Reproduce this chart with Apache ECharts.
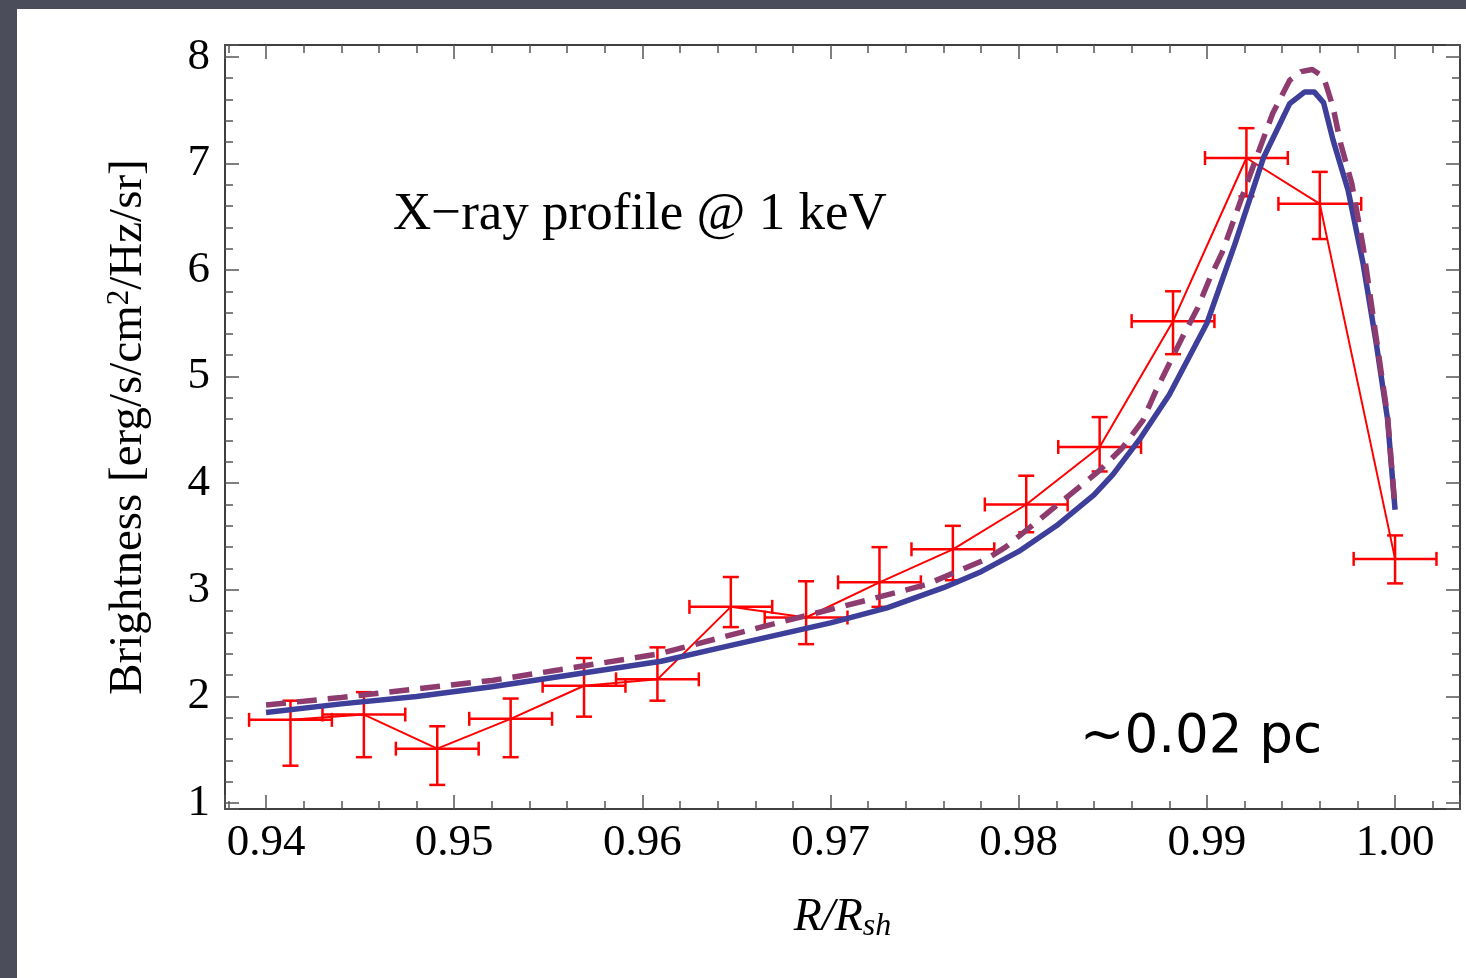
<!DOCTYPE html>
<html>
<head>
<meta charset="utf-8">
<script src="https://cdn.jsdelivr.net/npm/echarts@6/dist/echarts.min.js"></script>
<style>
  html, body { margin: 0; padding: 0; background: #fff; }
  #main { width: 1466px; height: 978px; }
</style>
</head>
<body>
<div id="main"></div>
<script>
// measured profile: R/R_sh, brightness, error bar ends
const dataR = [0.9413, 0.9452, 0.9491, 0.9530, 0.9569, 0.9608, 0.9647, 0.9687,
               0.9726, 0.9765, 0.9804, 0.9843, 0.9882, 0.9921, 0.9960, 1.0000];
const dataB = [1.78, 1.83, 1.51, 1.79, 2.10, 2.16, 2.84, 2.74,
               3.07, 3.38, 3.80, 4.34, 5.52, 7.05, 6.62, 3.29];
const dataLow = [1.35, 1.43, 1.17, 1.43, 1.81, 1.96, 2.65, 2.49,
                 2.84, 3.09, 3.54, 4.11, 5.21, 6.69, 6.29, 3.06];
const dataHigh = [1.96, 2.04, 1.72, 1.98, 2.36, 2.46, 3.12, 3.08,
                  3.40, 3.60, 4.07, 4.62, 5.80, 7.33, 6.92, 3.51];
const dataRErr = 0.0022;

// model, solid blue
const modelR = [0.940, 0.944, 0.948, 0.952, 0.955, 0.958, 0.961, 0.964, 0.967, 0.970,
                0.973, 0.976, 0.978, 0.980, 0.982, 0.984, 0.985, 0.9865, 0.988, 0.990,
                0.9915, 0.993, 0.9944, 0.9952, 0.9957, 0.9962, 0.9967, 0.9975, 0.9983,
                0.9990, 0.9996, 1.000];
const modelB = [1.85, 1.93, 2.00, 2.09, 2.17, 2.25, 2.33, 2.45, 2.57, 2.69,
                2.83, 3.02, 3.17, 3.36, 3.60, 3.89, 4.08, 4.43, 4.83, 5.50,
                6.25, 7.05, 7.56, 7.67, 7.67, 7.57, 7.22, 6.75, 6.06,
                5.31, 4.60, 3.75];

// model, dashed purple
const model2R = [0.940, 0.944, 0.948, 0.952, 0.9556, 0.9609, 0.9663, 0.9721, 0.9751, 0.9783,
                 0.9793, 0.9825, 0.9843, 0.9855, 0.9866, 0.9873, 0.9880, 0.9887, 0.9895,
                 0.9902, 0.9908, 0.9921, 0.9935, 0.9944, 0.9950, 0.9956, 0.9962, 0.9967,
                 0.9971, 0.9977, 0.9983, 0.9990, 0.9996, 1.000];
const model2B = [1.92, 1.99, 2.07, 2.15, 2.25, 2.40, 2.65, 2.91, 3.05, 3.29,
                 3.40, 3.86, 4.12, 4.33, 4.59, 4.87, 5.12, 5.37, 5.64,
                 5.94, 6.16, 6.80, 7.47, 7.78, 7.86, 7.88, 7.81, 7.53,
                 7.19, 6.81, 6.22, 5.36, 4.63, 3.76];

const xMin = 0.93782, xMax = 1.00345;
const yMin = 0.944, yMax = 8.11;

const serif = 'Liberation Serif';
const frameLine = { color: '#333', width: 1.5 };
const tickLine = { color: '#555', width: 1.5 };

function onStep(v, step) {
    const k = v / step;
    return Math.abs(k - Math.round(k)) < 1e-6;
}

function makeAxis(kind, pos, step, len, label) {
    return {
        type: 'value',
        position: pos,
        min: kind === 'x' ? xMin : yMin,
        max: kind === 'x' ? xMax : yMax,
        minInterval: step,
        maxInterval: step,
        splitNumber: 40,
        axisLine: { show: true, onZero: false, lineStyle: frameLine },
        axisTick: { show: true, inside: true, length: len, lineStyle: tickLine },
        axisLabel: label || { show: false },
        splitLine: { show: false },
        minorTick: { show: false }
    };
}

const xMain = makeAxis('x', 'bottom', 0.01, 14, {
    show: true,
    margin: 12,
    fontFamily: serif,
    fontSize: 45,
    color: '#000',
    formatter: v => onStep(v, 0.01) ? v.toFixed(2) : ''
});
xMain.name = '{i|R/R}{sub|sh}';
xMain.nameLocation = 'middle';
xMain.nameGap = 84;
xMain.nameTextStyle = {
    rich: {
        i: { fontFamily: serif, fontStyle: 'italic', fontSize: 46, color: '#000' },
        sub: { fontFamily: serif, fontStyle: 'italic', fontSize: 32, color: '#000', padding: [18, 0, 0, 0] }
    }
};

const yMain = makeAxis('y', 'left', 1, 14, {
    show: true,
    margin: 15,
    fontFamily: serif,
    fontSize: 45,
    color: '#000',
    formatter: v => onStep(v, 1) ? String(Math.round(v)) : ''
});
yMain.name = '{t|Brightness [erg/s/cm}{sup|2}{t|/Hz/sr]}';
yMain.nameLocation = 'middle';
yMain.nameGap = 71;
yMain.nameRotate = 90;
yMain.nameTextStyle = {
    rich: {
        t: { fontFamily: serif, fontSize: 47, color: '#000' },
        sup: { fontFamily: serif, fontSize: 31, color: '#000', padding: [0, 0, 19, 0] }
    }
};

const option = {
    backgroundColor: '#fff',
    animation: false,
    grid: { left: 225, top: 45, right: 6, bottom: 169 },
    xAxis: [
        xMain,
        makeAxis('x', 'bottom', 0.002, 8),
        makeAxis('x', 'top', 0.01, 14),
        makeAxis('x', 'top', 0.002, 8)
    ],
    yAxis: [
        yMain,
        makeAxis('y', 'left', 0.2, 8),
        makeAxis('y', 'right', 1, 14),
        makeAxis('y', 'right', 0.2, 8)
    ],
    graphic: [
        { type: 'rect', shape: { x: 0, y: 0, width: 17, height: 978 }, style: { fill: '#4b4e5a' } },
        { type: 'rect', shape: { x: 0, y: 0, width: 1466, height: 9 }, style: { fill: '#4b4e5a' } },
        {
            type: 'text', left: 393, top: 189,
            style: { text: 'X\u2212ray profile @ 1 keV', fontFamily: serif, fontSize: 53, fill: '#000' }
        },
        {
            type: 'text', left: 1080, top: 712,
            style: { text: '~0.02 pc', fontFamily: 'DejaVu Sans', fontSize: 53, fill: '#000' }
        }
    ],
    series: [
        {
            type: 'custom',
            z: 2,
            data: dataR.map((r, i) => [r, dataB[i], dataLow[i], dataHigh[i]]),
            renderItem: (params, api) => {
                const r = api.value(0), b = api.value(1);
                const lo = api.coord([r, api.value(2)]);
                const hi = api.coord([r, api.value(3)]);
                const le = api.coord([r - dataRErr, b]);
                const ri = api.coord([r + dataRErr, b]);
                const st = { stroke: '#ff0000', lineWidth: 2.5, fill: null };
                const seg = (x1, y1, x2, y2) => ({ type: 'line', shape: { x1, y1, x2, y2 }, style: st });
                return {
                    type: 'group',
                    children: [
                        seg(lo[0], lo[1], hi[0], hi[1]),
                        seg(lo[0] - 8, lo[1], lo[0] + 8, lo[1]),
                        seg(hi[0] - 8, hi[1], hi[0] + 8, hi[1]),
                        seg(le[0], le[1], ri[0], ri[1]),
                        seg(le[0], le[1] - 7, le[0], le[1] + 7),
                        seg(ri[0], ri[1] - 7, ri[0], ri[1] + 7)
                    ]
                };
            }
        },
        {
            type: 'line',
            z: 3,
            data: dataR.map((r, i) => [r, dataB[i]]),
            showSymbol: false,
            symbol: 'none',
            lineStyle: { color: '#ff0000', width: 2 }
        },
        {
            type: 'line',
            z: 4,
            data: modelR.map((r, i) => [r, modelB[i]]),
            symbol: 'none',
            lineStyle: { color: '#3e3e9b', width: 5.5, join: 'round' }
        },
        {
            type: 'line',
            z: 5,
            data: model2R.map((r, i) => [r, model2B[i]]),
            symbol: 'none',
            lineStyle: { color: '#8e3b6f', width: 5.5, type: [20, 11], cap: 'butt' }
        }
    ]
};

const chart = echarts.init(document.getElementById('main'));
chart.setOption(option);
</script>
</body>
</html>
